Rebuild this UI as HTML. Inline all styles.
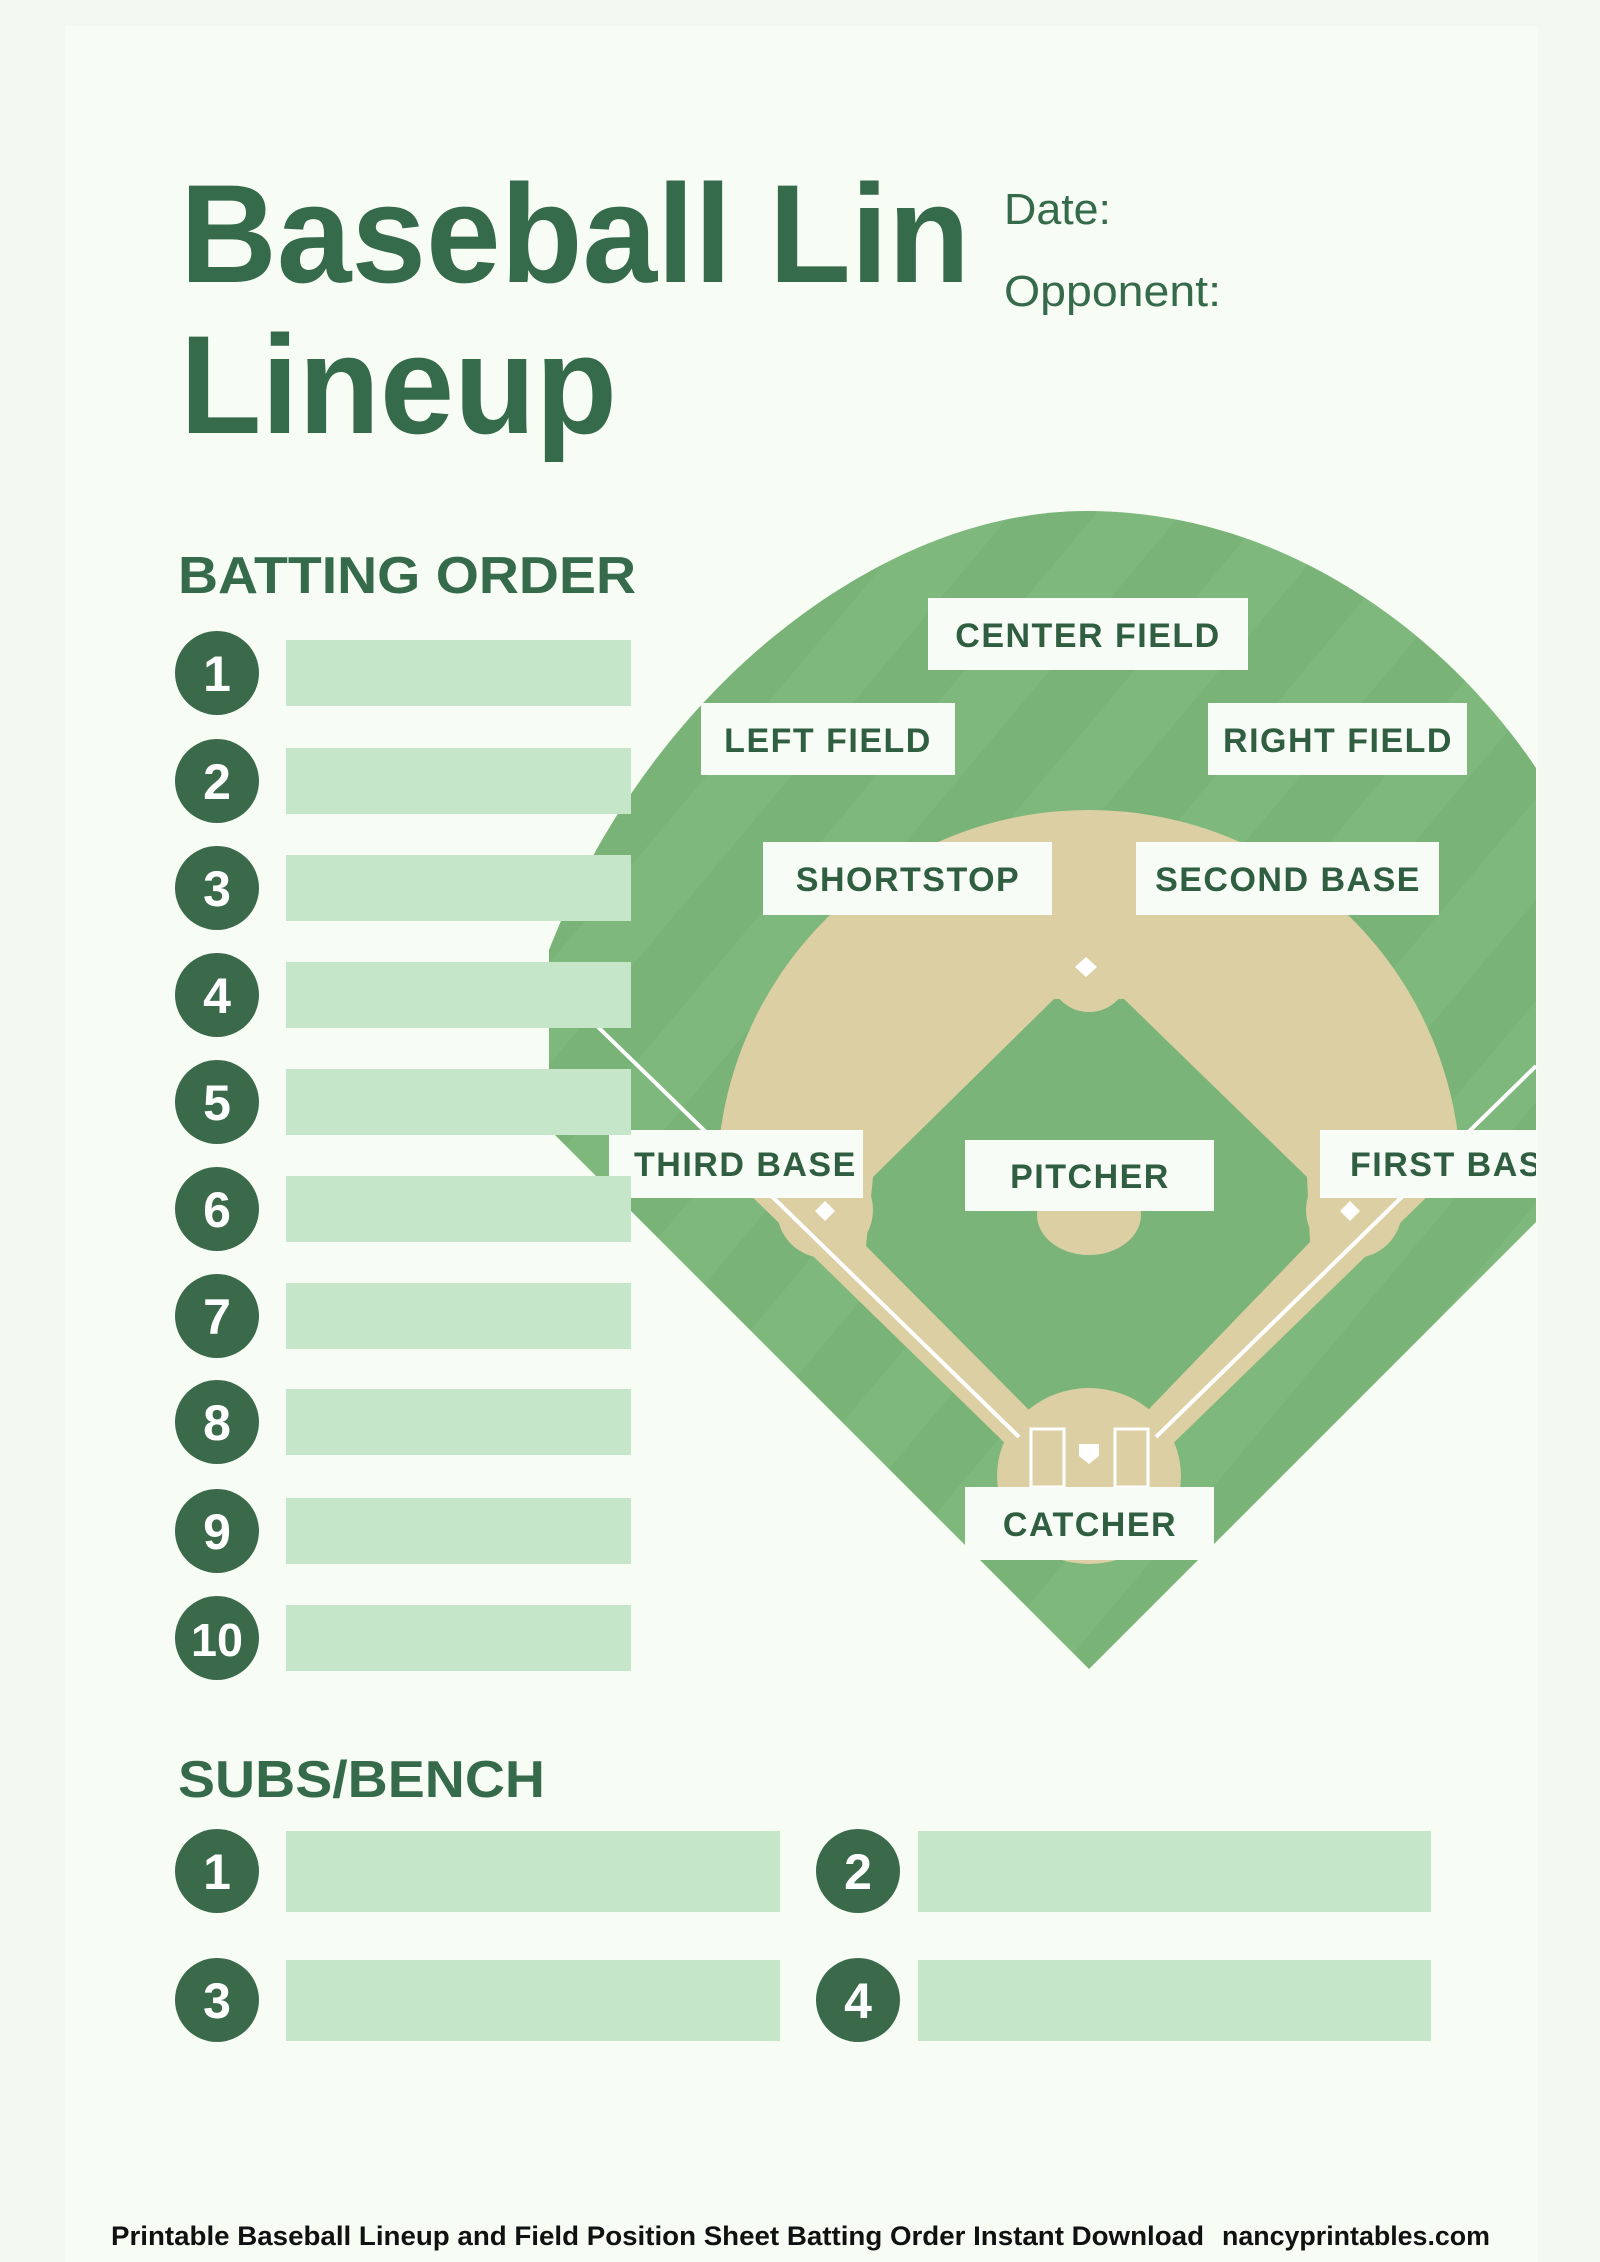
<!DOCTYPE html>
<html><head><meta charset="utf-8"><style>
html,body{margin:0;padding:0;background:#f3f9f1;}
svg{display:block;}
text{font-family:"Liberation Sans",sans-serif;}
</style></head><body>
<svg width="1600" height="2262" viewBox="0 0 1600 2262" xmlns="http://www.w3.org/2000/svg">
<defs>
<pattern id="stripes" width="130" height="130" patternUnits="userSpaceOnUse" patternTransform="rotate(40)">
<rect width="130" height="130" fill="#79b378"/>
<rect width="65" height="130" fill="#7eb87c"/>
</pattern>
<clipPath id="fieldclip"><rect x="549" y="400" width="987" height="1400"/></clipPath>
<clipPath id="wedge"><polygon points="1089,1525 540,990 540,700 1640,700 1640,990"/></clipPath>
</defs>
<rect width="1600" height="2262" fill="#f3f9f1"/>
<rect x="65" y="26" width="1473" height="2236" fill="#f7fcf5"/>

<text x="180" y="282" font-size="140" font-weight="bold" fill="#356a4b" textLength="790" lengthAdjust="spacingAndGlyphs">Baseball Lin</text>
<text x="180" y="433" font-size="140" font-weight="bold" fill="#356a4b" textLength="437" lengthAdjust="spacingAndGlyphs">Lineup</text>
<text x="1004" y="224" font-size="44" fill="#356a4b" textLength="107" lengthAdjust="spacingAndGlyphs">Date:</text>
<text x="1004" y="306" font-size="44" fill="#356a4b" textLength="217" lengthAdjust="spacingAndGlyphs">Opponent:</text>

<text x="178" y="593" font-size="52" font-weight="bold" fill="#356a4b" textLength="458" lengthAdjust="spacingAndGlyphs">BATTING ORDER</text>

<g clip-path="url(#fieldclip)">
<path d="M549,1129 L549,950 C650,690 880,511 1086,511 C1290,511 1450,640 1536,768 L1536,1222 L1089,1669 Z" fill="url(#stripes)"/>
<circle cx="1089" cy="1182" r="372" fill="#dccfa3" clip-path="url(#wedge)"/>
<polygon points="1054,999 873,1177 866,1246 1029,1410 1148,1410 1310,1242 1307,1177 1124,999" fill="#7ab479"/>
<circle cx="1089" cy="972" r="40" fill="#dccfa3"/>
<circle cx="825" cy="1210" r="48" fill="#dccfa3"/>
<circle cx="1354" cy="1210" r="48" fill="#dccfa3"/>
<ellipse cx="1089" cy="1215" rx="52" ry="40" fill="#dccfa3"/>
<ellipse cx="1089" cy="1476" rx="92" ry="88" fill="#dccfa3"/>
<line x1="597" y1="1026" x2="1019" y2="1437" stroke="#fff" stroke-width="4"/>
<line x1="1536" y1="1066" x2="1156" y2="1437" stroke="#fff" stroke-width="4"/>
<rect x="1031" y="1429" width="33" height="58" fill="none" stroke="#fff" stroke-width="3"/>
<rect x="1115" y="1429" width="33" height="58" fill="none" stroke="#fff" stroke-width="3"/>
<polygon points="1079,1444 1099,1444 1099,1456 1089,1464 1079,1456" fill="#fff"/>
<polygon points="1086,957 1097,967 1086,977 1075,967" fill="#fff"/>
<polygon points="825,1201 835,1211 825,1221 815,1211" fill="#fff"/>
<polygon points="1350,1201 1360,1211 1350,1221 1340,1211" fill="#fff"/>
</g>

<g font-size="34" font-weight="bold" fill="#2f5e41" letter-spacing="1.5">
<rect x="928" y="598" width="320" height="72" fill="#f8fcf6"/>
<text x="1088" y="647" text-anchor="middle">CENTER FIELD</text>
<rect x="701" y="703" width="254" height="72" fill="#f8fcf6"/>
<text x="828" y="752" text-anchor="middle">LEFT FIELD</text>
<rect x="1208" y="703" width="259" height="72" fill="#f8fcf6"/>
<text x="1338" y="752" text-anchor="middle">RIGHT FIELD</text>
<rect x="763" y="842" width="289" height="73" fill="#f8fcf6"/>
<text x="908" y="891" text-anchor="middle">SHORTSTOP</text>
<rect x="1136" y="842" width="303" height="73" fill="#f8fcf6"/>
<text x="1288" y="891" text-anchor="middle">SECOND BASE</text>
<rect x="609" y="1130" width="254" height="68" fill="#f8fcf6"/>
<text x="634" y="1176">THIRD BASE</text>
<rect x="965" y="1140" width="249" height="71" fill="#f8fcf6"/>
<text x="1090" y="1188" text-anchor="middle">PITCHER</text>
<rect x="1320" y="1130" width="216" height="68" fill="#f8fcf6"/>
<svg x="1320" y="1130" width="216" height="68" overflow="hidden"><text x="30" y="46">FIRST BASE</text></svg>
<rect x="965" y="1487" width="249" height="73" fill="#f8fcf6"/>
<text x="1090" y="1536" text-anchor="middle">CATCHER</text>
</g>

<g fill="#c5e6c8">
<rect x="286" y="640" width="345" height="66"/>
<rect x="286" y="748" width="345" height="66"/>
<rect x="286" y="855" width="345" height="66"/>
<rect x="286" y="962" width="345" height="66"/>
<rect x="286" y="1069" width="345" height="66"/>
<rect x="286" y="1176" width="345" height="66"/>
<rect x="286" y="1283" width="345" height="66"/>
<rect x="286" y="1389" width="345" height="66"/>
<rect x="286" y="1498" width="345" height="66"/>
<rect x="286" y="1605" width="345" height="66"/>
</g>
<g fill="#3a6a4a">
<circle cx="217" cy="673" r="42"/><circle cx="217" cy="781" r="42"/><circle cx="217" cy="888" r="42"/>
<circle cx="217" cy="995" r="42"/><circle cx="217" cy="1102" r="42"/><circle cx="217" cy="1209" r="42"/>
<circle cx="217" cy="1316" r="42"/><circle cx="217" cy="1422" r="42"/><circle cx="217" cy="1531" r="42"/>
<circle cx="217" cy="1638" r="42"/>
</g>
<g fill="#ffffff" font-size="50" font-weight="bold" text-anchor="middle">
<text x="217" y="691">1</text><text x="217" y="799">2</text><text x="217" y="906">3</text>
<text x="217" y="1013">4</text><text x="217" y="1120">5</text><text x="217" y="1227">6</text>
<text x="217" y="1334">7</text><text x="217" y="1440">8</text><text x="217" y="1549">9</text>
<text x="217" y="1656" font-size="46" textLength="52" lengthAdjust="spacingAndGlyphs">10</text>
</g>

<text x="178" y="1797" font-size="52" font-weight="bold" fill="#356a4b" textLength="367" lengthAdjust="spacingAndGlyphs">SUBS/BENCH</text>
<rect x="286" y="1831" width="494" height="81" fill="#c5e6c8"/>
<rect x="918" y="1831" width="513" height="81" fill="#c5e6c8"/>
<rect x="286" y="1960" width="494" height="81" fill="#c5e6c8"/>
<rect x="918" y="1960" width="513" height="81" fill="#c5e6c8"/>
<g fill="#3a6a4a">
<circle cx="217" cy="1871" r="42"/><circle cx="858" cy="1871" r="42"/>
<circle cx="217" cy="2000" r="42"/><circle cx="858" cy="2000" r="42"/>
</g>
<g fill="#ffffff" font-size="50" font-weight="bold" text-anchor="middle">
<text x="217" y="1889">1</text><text x="858" y="1889">2</text>
<text x="217" y="2018">3</text><text x="858" y="2018">4</text>
</g>

<text x="111" y="2245" font-size="27" font-weight="bold" fill="#111" textLength="1093" lengthAdjust="spacingAndGlyphs">Printable Baseball Lineup and Field Position Sheet Batting Order Instant Download</text>
<text x="1222" y="2245" font-size="27" font-weight="bold" fill="#111" textLength="268" lengthAdjust="spacingAndGlyphs">nancyprintables.com</text>
</svg>
</body></html>
